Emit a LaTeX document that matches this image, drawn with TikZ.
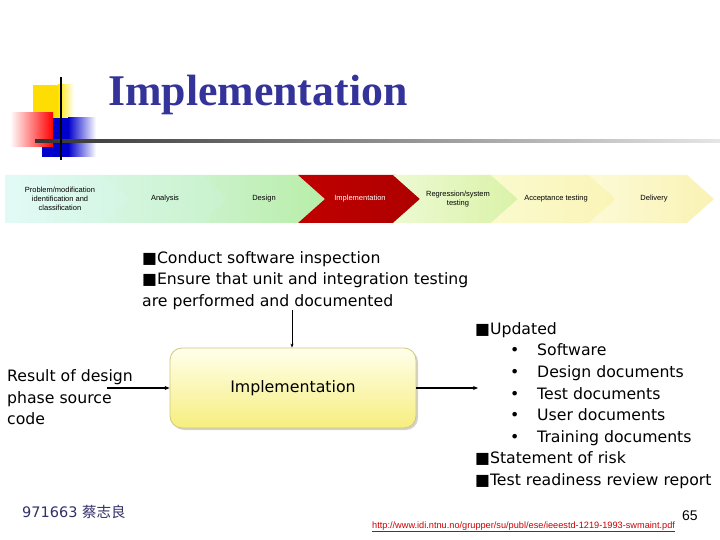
\documentclass[tikz,border=0pt]{standalone}
\usepackage{fontspec}
\setmainfont{DejaVu Sans}
\newfontfamily\arialfont{Liberation Sans}
\newfontfamily\titlefont{Liberation Serif}
\newfontfamily\cjk{Noto Sans CJK SC}
\usetikzlibrary{shadows,arrows.meta}
\definecolor{titleblue}{HTML}{333399}
\definecolor{footblue}{HTML}{30306A}
\definecolor{redchev}{HTML}{C00000}
\definecolor{boxborder}{HTML}{D2C67A}
\tikzset{
  chevtext/.style={font=\arialfont\fontsize{7.5}{9}\selectfont, align=center, inner sep=0pt},
  body/.style={font=\fontsize{15.7}{21.5}\selectfont, anchor=base west, inner sep=0pt},
  conn/.style={line width=1.2pt, -{Stealth[length=5pt,width=4pt]}},
}
\newcommand{\chev}[3]{% left x, left colour, right colour
  \shade[left color=#2, right color=#3] (#1,175) -- ++(98,0) -- ++(27,24) -- ++(-27,24) -- ++(-98,0) -- ++(27,-24) -- cycle;}
\begin{document}
\begin{tikzpicture}[x=1pt,y=-1pt]
\useasboundingbox (0,0) rectangle (720,540);
\fill[white] (0,0) rectangle (720,540);
% logo
\fill[yellow!80!orange] (33,85) rectangle (58,118);
\shade[left color=yellow!80!orange, right color=white] (58,85) rectangle (74,118);
\fill[blue!80!black] (42,118) rectangle (68,157);
\shade[left color=blue!80!black, right color=white] (68,118) rectangle (96,157);
\shade[left color=white, right color=red] (10,113) rectangle (53,147);
\shade[left color=black!80, right color=black!10] (35,140) rectangle (720,142.5);
\fill[black] (60,77) rectangle (62,160);
\node[anchor=base west, inner sep=0pt, text=titleblue, font=\titlefont\bfseries\fontsize{43.8}{48}\selectfont] (title) at (108,106) {Implementation};
% process chevrons
\shade[left color={rgb,255:red,226;green,250;blue,246}, right color={rgb,255:red,212;green,246;blue,226}] (5,175) -- (102,175) -- (129,199) -- (102,223) -- (5,223) -- cycle;
\chev{102}{{rgb,255:red,214;green,246;blue,226}}{{rgb,255:red,200;green,242;blue,204}}
\chev{200}{{rgb,255:red,204;green,242;blue,204}}{{rgb,255:red,184;green,238;blue,168}}
\shade[left color=redchev, right color=redchev!90!black] (298,175) -- ++(98,0) -- ++(27,24) -- ++(-27,24) -- ++(-98,0) -- ++(27,-24) -- cycle;
\chev{393}{{rgb,255:red,236;green,250;blue,210}}{{rgb,255:red,218;green,242;blue,168}}
\chev{491}{{rgb,255:red,250;green,250;blue,206}}{{rgb,255:red,250;green,244;blue,182}}
\chev{589}{{rgb,255:red,252;green,250;blue,214}}{{rgb,255:red,250;green,242;blue,180}}
\node[chevtext] (p1) at (60,199) {Problem/modification\\identification and\\classification};
\node[chevtext] (p2) at (165,199) {Analysis};
\node[chevtext] (p3) at (264,199) {Design};
\node[chevtext, text=white] (p4) at (360,199) {Implementation};
\node[chevtext] (p5) at (458,199) {Regression/system\\testing};
\node[chevtext] (p6) at (556,199) {Acceptance testing};
\node[chevtext] (p7) at (654,199) {Delivery};
% top text
\node[body] (t1) at (142,263) {■Conduct software inspection};
\node[body] (t2) at (142,284.5) {■Ensure that unit and integration testing};
\node[body] (t3) at (142,306) {are performed and documented};
% central box
\node[draw=boxborder, line width=0.8pt, rounded corners=12pt, minimum width=246pt, minimum height=80pt,
      top color={rgb,255:red,255;green,255;blue,236}, bottom color={rgb,255:red,246;green,238;blue,126},
      drop shadow={opacity=0.35, shadow xshift=2pt, shadow yshift=-2pt},
      font=\fontsize{15.8}{20}\selectfont] (box) at (293,388) {Implementation};
\coordinate (topin) at (292,310);
\coordinate (leftin) at (107,388);
\coordinate (rightout) at (478,388);
\draw[line width=0.8pt, -{Stealth[length=4pt,width=3pt]}] (topin) -- (box.north -| topin);
\draw[conn] (leftin) -- (box.west);
\draw[conn] (box.east) -- (rightout);
% left text
\node[body] (l1) at (7,381) {Result of design};
\node[body] (l2) at (7,403) {phase source};
\node[body] (l3) at (7,424) {code};
% right text
\node[body] (r1) at (475,334) {■Updated};
\foreach \y/\t/\n in {355/Software/ra, 377/Design documents/rb, 399/Test documents/rc, 420/User documents/rd, 442/Training documents/re}{
  \node[body] (\n b) at (510,\y) {•};
  \node[body] (\n) at (537,\y) {\t};
}
\node[body] (r7) at (475,463) {■Statement of risk};
\node[body] (r8) at (475,485) {■Test readiness review report};
% footer
\node[anchor=base west, inner sep=0pt, text=footblue, font=\fontsize{14.5}{18}\selectfont] (foot) at (22,517) {971663 {\cjk 蔡志良}};
\node[anchor=base west, inner sep=0pt, text={rgb,255:red,204;green,0;blue,0}, font=\arialfont\fontsize{9.2}{10}\selectfont] (url) at (372,528) {\underline{http://www.idi.ntnu.no/grupper/su/publ/ese/ieeestd-1219-1993-swmaint.pdf}};
\node[anchor=base west, inner sep=0pt, font=\arialfont\fontsize{14}{16}\selectfont] (page) at (682,520) {65};
\end{tikzpicture}
\end{document}
